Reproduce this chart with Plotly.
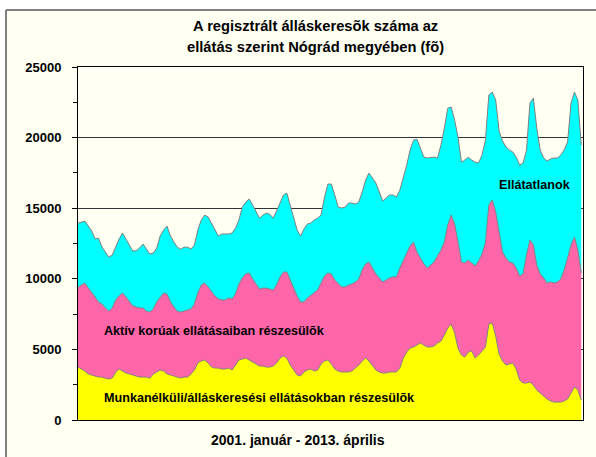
import plotly.graph_objects as go

months = [f"{2001 + i // 12}. {i % 12 + 1:02d}" for i in range(148)]

munkanelkuli = [3750, 3610, 3470, 3260, 3190, 3120, 3040, 3040, 2970, 2900, 2970, 3400,
                3610, 3470, 3330, 3260, 3190, 3120, 3040, 3040, 3040, 2970, 3260, 3400,
                3540, 3470, 3260, 3190, 3120, 3040, 2970, 3040, 3040, 3260, 3540, 4040,
                4180, 4250, 4040, 3750, 3680, 3680, 3610, 3610, 3680, 3540, 3890, 4250,
                4320, 4390, 4250, 4110, 3970, 3820, 3820, 3750, 3750, 3820, 4040, 4390,
                4530, 4390, 3890, 3540, 3190, 3120, 3400, 3540, 3610, 3470, 3540, 3970,
                4180, 4250, 3970, 3610, 3470, 3400, 3400, 3400, 3470, 3680, 3890, 4180,
                4390, 4180, 3890, 3540, 3400, 3330, 3330, 3400, 3400, 3400, 3680, 4390,
                4810, 5100, 5170, 5310, 5450, 5310, 5170, 5170, 5240, 5450, 5590, 6020,
                6510, 6800, 6160, 5100, 4600, 4460, 4810, 4890, 4390, 4600, 4890, 5170,
                6800, 6870, 5950, 4670, 4180, 3890, 3970, 4040, 3610, 2830, 2620, 2620,
                2690, 2480, 2120, 1910, 1630, 1490, 1350, 1270, 1270, 1270, 1350, 1490,
                1910, 2340, 2120, 1420]

aktiv = [5660, 5950, 6230, 6090, 5880, 5590, 5310, 5170, 4960, 4810, 4960, 5100,
         5170, 5520, 5380, 5100, 4890, 4890, 4890, 4890, 4670, 4670, 4600, 4960,
         5170, 5520, 5660, 5170, 4890, 4670, 4670, 4670, 4740, 4600, 4670, 4960,
         5380, 5450, 5380, 5310, 5100, 4890, 4890, 4890, 4960, 5030, 5030, 5380,
         5740, 5950, 6160, 5880, 5660, 5450, 5520, 5590, 5520, 5380, 5520, 5730,
         5950, 6090, 6020, 5740, 5590, 5240, 4960, 5100, 5240, 5520, 5660, 5740,
         6020, 6160, 6370, 6300, 6160, 6020, 6020, 6160, 6160, 6090, 6090, 6440,
         6660, 7010, 6870, 6800, 6660, 6440, 6580, 6660, 6730, 6730, 7080, 6870,
         7010, 7220, 7430, 6580, 6020, 5740, 5590, 5810, 5950, 6160, 6440, 6580,
         7290, 7720, 7720, 7500, 6580, 6660, 6510, 6230, 6510, 6660, 6870, 7360,
         8430, 8710, 8780, 8640, 7720, 7580, 7220, 7080, 7150, 7360, 7720, 9060,
         10050, 9910, 8850, 8430, 8430, 8210, 8430, 8430, 8500, 8710, 9280, 9980,
         10480, 10620, 9910, 8990]

ellatatlan = [4530, 4460, 4390, 4390, 4320, 4110, 4530, 4040, 3960, 3820, 3750, 3750,
              4040, 4250, 4110, 4040, 3890, 3970, 4250, 4530, 4390, 4110, 3970, 3820,
              4320, 4460, 4810, 4670, 4600, 4530, 4460, 4530, 4460, 4250, 4180, 4460,
              4600, 4810, 4960, 4890, 4670, 4460, 4670, 4670, 4530, 4670, 4670, 4530,
              5030, 5100, 5240, 5240, 5100, 5030, 5170, 5310, 5310, 5100, 5240, 5240,
              5450, 5590, 5310, 5030, 4670, 4670, 5170, 5240, 5100, 5170, 5100, 4810,
              5590, 6300, 6370, 6020, 5450, 5590, 5660, 5810, 5740, 5520, 5450, 5520,
              5950, 6300, 6370, 6440, 6090, 5740, 5810, 5880, 5810, 5660, 5520, 5880,
              6230, 6800, 7220, 8000, 7790, 7580, 7790, 7580, 7430, 6940, 7430, 8070,
              8280, 7650, 7360, 7430, 7080, 7290, 7290, 7290, 7360, 6940, 7010, 7290,
              7790, 7650, 7930, 7150, 7860, 7860, 7930, 7860, 7860, 7860, 7860, 7430,
              9700, 10410, 9700, 8780, 8500, 8640, 8710, 8850, 8780, 8780, 8500, 8210,
              10050, 10270, 10620, 9060]

series_names = ["Munkanélküli/álláskeresési ellátásokban részesülõk",
                "Aktív korúak ellátásaiban részesülõk",
                "Ellátatlanok"]
series_values = [munkanelkuli, aktiv, ellatatlan]
series_colors = ["#FFFF00", "#FF66AA", "#00FFFF"]

title_lines = ["A regisztrált álláskeresõk száma az",
               "ellátás szerint Nógrád megyében (fõ)"]
x_title = "2001. január - 2013. április"
y_ticks = [0, 5000, 10000, 15000, 20000, 25000]
y_ticktext = ["0", "5000", "10000", "15000", "20000", "25000"]

FONT = "Liberation Sans, Arial, sans-serif"
CREAM = "#FFFFF2"

fig = go.Figure()
for name, vals, col in zip(series_names, series_values, series_colors):
    fig.add_trace(go.Scatter(
        x=months, y=vals, name=name, mode="lines",
        stackgroup="one", fillcolor=col,
        line=dict(color="#808080", width=1),
        hoverinfo="skip",
    ))

W, H = 596, 457
L, R, T, B = 78, 13, 67, 37
pw, ph = W - L - R, H - T - B

def px_x(x):
    return (x - L) / pw

def px_y(y):
    return (H - B - y) / ph

# white outer strips (outside the chart frame) and grey frame edges
fig.add_shape(type="rect", xref="paper", yref="paper",
              x0=px_x(-5), x1=px_x(W + 5), y0=px_y(10), y1=px_y(-5),
              fillcolor="white", line=dict(width=0), layer="above")
fig.add_shape(type="rect", xref="paper", yref="paper",
              x0=px_x(-5), x1=px_x(6), y0=px_y(H + 5), y1=px_y(-5),
              fillcolor="white", line=dict(width=0), layer="above")
fig.add_shape(type="line", xref="paper", yref="paper",
              x0=px_x(6), x1=px_x(W + 5), y0=px_y(10), y1=px_y(10),
              line=dict(color="#808080", width=2), layer="above")
fig.add_shape(type="line", xref="paper", yref="paper",
              x0=px_x(6), x1=px_x(6), y0=px_y(10), y1=px_y(H + 5),
              line=dict(color="#808080", width=2), layer="above")

for i, t in enumerate(title_lines):
    fig.add_annotation(text=t, xref="paper", yref="paper",
                       x=px_x(315), y=px_y(26 + 21 * i), showarrow=False,
                       xanchor="center", yanchor="middle",
                       font=dict(family=FONT, size=14.7, color="black", weight="bold"))

fig.add_annotation(text=x_title, xref="paper", yref="paper",
                   x=px_x(298), y=px_y(440), showarrow=False,
                   xanchor="center", yanchor="middle",
                   font=dict(family=FONT, size=14, color="black", weight="bold"))

label_pos = [(53, 1560), (40, 6300), (133.6, 16640)]
for name, (lx, ly) in zip(series_names, label_pos):
    fig.add_annotation(text=name, x=lx, y=ly, xref="x", yref="y", showarrow=False,
                       xanchor="center", yanchor="middle",
                       font=dict(family=FONT, size=12.6, color="black", weight="bold"))

fig.update_layout(
    width=W, height=H,
    margin=dict(l=L, r=R, t=T, b=B, pad=0),
    paper_bgcolor=CREAM, plot_bgcolor=CREAM,
    showlegend=False,
    hovermode=False,
    font=dict(family=FONT, size=12, color="black"),
    xaxis=dict(type="category", range=[0, 147.5], showticklabels=False,
               ticks="", showgrid=False, zeroline=False,
               showline=True, linecolor="black", linewidth=1, mirror=True),
    yaxis=dict(range=[0, 25000], tickvals=y_ticks, ticktext=y_ticktext,
               ticks="outside", ticklen=5, tickcolor="black", tickwidth=1,
               minor=dict(dtick=2500, ticks="outside", ticklen=4, tickcolor="black", showgrid=False),
               showgrid=True, gridcolor="#333333", gridwidth=1, zeroline=False,
               showline=True, linecolor="black", linewidth=1, mirror=True,
               ticklabelstandoff=8,
               tickfont=dict(family=FONT, size=13, color="black", weight="bold")),
)

fig.write_html("out.html", config={"displayModeBar": False},
               post_script="document.body.style.margin='0';document.body.style.padding='0';")
